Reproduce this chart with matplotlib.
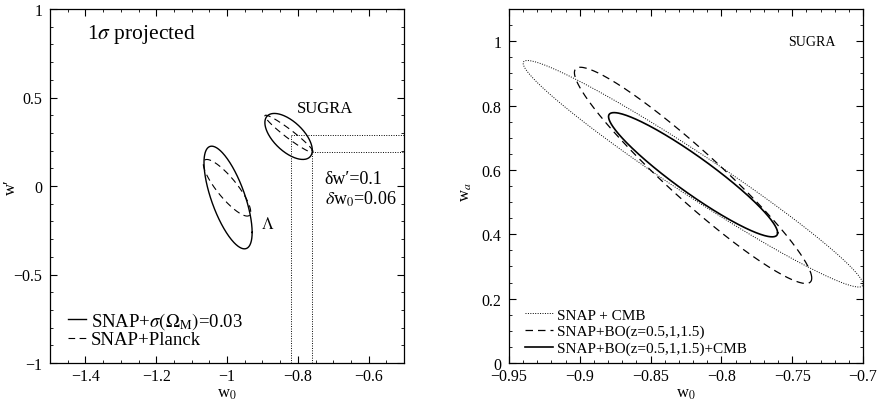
# Projected 1-sigma contours in the w0-w' plane (left) and the w0-wa plane (right)
import numpy as np
import matplotlib
matplotlib.use('Agg')
import matplotlib.pyplot as plt
from matplotlib.ticker import MultipleLocator, FuncFormatter

plt.rcParams['font.family'] = ['Liberation Serif', 'DejaVu Serif']
plt.rcParams['mathtext.fontset'] = 'stix'

# left panel: Lambda and SUGRA models, each with two ellipses
left_models = ['Lambda', 'SUGRA']
solid_w0 = [-0.997, -0.826]
solid_wp = [-0.065, 0.28]
solid_sig_w0 = [0.068, 0.067]
solid_sig_wp = [0.29, 0.13]
solid_rho = [-0.68, -0.6]
dashed_w0 = [-1.0, -0.825]
dashed_wp = [-0.01, 0.295]
dashed_sig_w0 = [0.067, 0.068]
dashed_sig_wp = [0.16, 0.105]
dashed_rho = [-0.85, -0.96]
left_labels = [r'SNAP+$\sigma(\Omega_{\rm M})$=0.03', 'SNAP+Planck']

# error bars marked with dotted lines for SUGRA
dw0_lines = [-0.82, -0.76]
dwp_lines = [0.29, 0.19]

# right panel: SUGRA model with three data combinations
right_labels = ['SNAP + CMB', 'SNAP+BO(z=0.5,1,1.5)', 'SNAP+BO(z=0.5,1,1.5)+CMB']
right_w0 = [-0.82, -0.82, -0.82]
right_wa = [0.588, 0.583, 0.585]
right_sig_w0 = [0.12, 0.0838, 0.0597]
right_sig_wa = [0.352, 0.336, 0.193]
right_rho = [-0.975, -0.95, -0.935]
right_styles = [(0, (1, 1.5)), (0, (6, 4)), '-']
right_widths = [0.7, 0.9, 1.2]


def ellipse(cx, cy, sx, sy, rho, n=300):
    t = np.linspace(0, 2 * np.pi, n)
    x = cx + sx * np.cos(t)
    y = cy + sy * (rho * np.cos(t) + np.sqrt(1 - rho ** 2) * np.sin(t))
    return x, y


def style_axes(ax):
    ax.tick_params(which='both', direction='in', top=True, right=True, labelsize=11.5)
    ax.tick_params(which='major', length=5, width=0.8)
    ax.tick_params(which='minor', length=2.5, width=0.6)
    ax.tick_params(axis='y', pad=5.5)
    ax.tick_params(axis='x', pad=3.5)
    fmt = FuncFormatter(lambda v, p: ('%g' % v).replace('-', '\u2212'))
    ax.xaxis.set_major_formatter(fmt)
    ax.yaxis.set_major_formatter(fmt)
    for s in ax.spines.values():
        s.set_linewidth(0.9)


fig = plt.figure(figsize=(8.81, 4.02), dpi=100)
ax1 = fig.add_axes([50 / 881, 38 / 402, 354 / 881, 354 / 402])
ax2 = fig.add_axes([509 / 881, 38 / 402, 354 / 881, 354 / 402])

# left panel
for i in range(len(left_models)):
    x, y = ellipse(solid_w0[i], solid_wp[i], solid_sig_w0[i], solid_sig_wp[i], solid_rho[i])
    ax1.plot(x, y, color='black', lw=1.0, label=left_labels[0] if i == 0 else None)
    x, y = ellipse(dashed_w0[i], dashed_wp[i], dashed_sig_w0[i], dashed_sig_wp[i], dashed_rho[i])
    ax1.plot(x, y, color='black', lw=0.8, linestyle=(0, (6, 4)),
             label=left_labels[1] if i == 0 else None)

dot = dict(color='black', lw=0.7, linestyle=(0, (1, 1.5)))
ax1.plot([dw0_lines[0], dw0_lines[0]], [-1, dwp_lines[0]], **dot)
ax1.plot([dw0_lines[1], dw0_lines[1]], [-1, dwp_lines[1]], **dot)
ax1.plot([dw0_lines[0], -0.5], [dwp_lines[0], dwp_lines[0]], **dot)
ax1.plot([dw0_lines[1], -0.5], [dwp_lines[1], dwp_lines[1]], **dot)

ax1.text(-1.396, 0.86, r'1$\sigma$ projected', fontsize=15.5, va='center')
ax1.text(-0.722, 0.442, 'SUGRA', fontsize=12, ha='center', va='center')
ax1.text(-0.884, -0.214, r'$\Lambda$', fontsize=12, ha='center', va='center')
ax1.text(-0.724, 0.041, 'δw\u2032=0.1', fontsize=13, va='center')
ax1.text(-0.724, -0.072, r'$\delta$w$_0$=0.06', fontsize=13, va='center')

ax1.set_xlim(-1.5, -0.5)
ax1.set_ylim(-1, 1)
ax1.xaxis.set_major_locator(MultipleLocator(0.2))
ax1.xaxis.set_minor_locator(MultipleLocator(0.05))
ax1.yaxis.set_major_locator(MultipleLocator(0.5))
ax1.yaxis.set_minor_locator(MultipleLocator(0.1))
ax1.set_xlabel(r'w$_0$', fontsize=12, labelpad=1)
ax1.set_ylabel('w\u2032', fontsize=12)
ax1.yaxis.set_label_coords(-0.088, 0.5)
style_axes(ax1)
ax1.legend(loc='lower left', frameon=False, fontsize=13.5, handlelength=0.96,
           handletextpad=0.25, labelspacing=0.0, borderpad=0, borderaxespad=0,
           bbox_to_anchor=(0.051, 0.041))

# right panel
for i in range(len(right_labels)):
    x, y = ellipse(right_w0[i], right_wa[i], right_sig_w0[i], right_sig_wa[i], right_rho[i])
    ax2.plot(x, y, color='black', lw=right_widths[i], linestyle=right_styles[i],
             label=right_labels[i])

ax2.text(-0.736, 1.0, 'SUGRA', fontsize=10, ha='center', va='center')

ax2.set_xlim(-0.95, -0.7)
ax2.set_ylim(0, 1.1)
ax2.xaxis.set_major_locator(MultipleLocator(0.05))
ax2.xaxis.set_minor_locator(MultipleLocator(0.01))
ax2.yaxis.set_major_locator(MultipleLocator(0.2))
ax2.yaxis.set_minor_locator(MultipleLocator(0.05))
ax2.set_xlabel(r'w$_0$', fontsize=12, labelpad=1)
ax2.set_ylabel(r'w$_a$', fontsize=12)
ax2.yaxis.set_label_coords(-0.099, 0.486)
style_axes(ax2)
ax2.legend(loc='lower left', frameon=False, fontsize=11, handlelength=1.84,
           handletextpad=0.25, labelspacing=0.19, borderpad=0, borderaxespad=0,
           bbox_to_anchor=(0.045, 0.022))

fig.savefig('out.png', dpi=100)
